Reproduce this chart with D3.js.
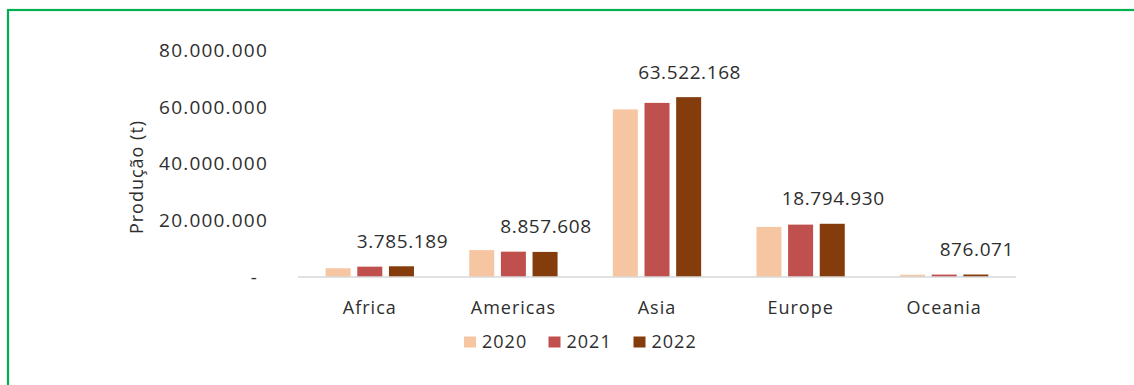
<!DOCTYPE html>
<html>
<head>
<meta charset="utf-8">
<script src="https://cdn.jsdelivr.net/npm/d3@7"></script>
<style>
  html, body { margin: 0; padding: 0; background: #ffffff; }
  svg { display: block; }
  text { font-family: "Open Sans", "Noto Sans", sans-serif; fill: #2e2e2e; }
</style>
</head>
<body>
<svg id="chart" width="1134" height="385"></svg>
<script>
// Produção por continente (t), 2020–2022
const categories = ["Africa", "Americas", "Asia", "Europe", "Oceania"];
const years = ["2020", "2021", "2022"];
const values2020 = [3100000, 9500000, 59200000, 17700000, 800000];
const values2021 = [3650000, 8950000, 61500000, 18500000, 860000];
const values2022 = [3785189, 8857608, 63522168, 18794930, 876071];
const yTicks = [0, 20000000, 40000000, 60000000, 80000000];
const colors = ["#F6C6A2", "#C0504D", "#843C0C"];
const yTitle = "Produção (t)";

const series = [values2020, values2021, values2022];

const svg = d3.select("#chart");

// outer frame
svg.append("rect")
  .attr("x", 8).attr("y", 10)
  .attr("width", 1400).attr("height", 600)
  .attr("fill", "none")
  .attr("stroke", "#00B050")
  .attr("stroke-width", 2.2);

const plot = { left: 298, right: 1016, top: 50.5, bottom: 277 };

const y = d3.scaleLinear().domain([0, 80000000]).range([plot.bottom, plot.top]);
const x0 = d3.scaleBand().domain(categories)
  .range([plot.left, plot.right])
  .paddingInner(0.385).paddingOuter(0.1925);
const x1 = d3.scaleBand().domain(years)
  .range([0, x0.bandwidth()])
  .paddingInner(0.21);

const ptBR = d3.formatLocale({ decimal: ",", thousands: ".", grouping: [3], currency: ["", ""] });
const fmt = ptBR.format(",.0f");

// y axis (labels only)
const yAxis = svg.append("g")
  .attr("transform", `translate(${plot.left},0)`)
  .call(d3.axisLeft(y).tickValues(yTicks).tickSize(0).tickPadding(30)
    .tickFormat(d => d === 0 ? "-" : fmt(d)));
yAxis.select(".domain").remove();
yAxis.selectAll("text")
  .attr("font-size", 19)
  .attr("letter-spacing", 1.2)
  .attr("fill", "#2e2e2e")
  .attr("font-family", "'Open Sans', 'Noto Sans', sans-serif")
  .attr("dx", d => d === 0 ? -10 : 0);

// y axis title
svg.append("text")
  .attr("transform", "translate(143,177) rotate(-90)")
  .attr("text-anchor", "middle")
  .attr("font-size", 18)
  .attr("letter-spacing", 1)
  .text(yTitle);

// bars
const groups = svg.append("g").selectAll("g")
  .data(categories)
  .join("g")
  .attr("transform", d => `translate(${x0(d)},0)`);

groups.selectAll("rect")
  .data((c, i) => years.map((yr, k) => ({ year: yr, value: series[k][i], k })))
  .join("rect")
  .attr("x", d => x1(d.year))
  .attr("y", d => y(d.value))
  .attr("width", x1.bandwidth())
  .attr("height", d => y(0) - y(d.value))
  .attr("fill", d => colors[d.k]);

// baseline
svg.append("line")
  .attr("x1", plot.left).attr("x2", plot.right)
  .attr("y1", y(0)).attr("y2", y(0))
  .attr("stroke", "#D9D9D9").attr("stroke-width", 1.5);

// value labels on the 2022 bars
svg.append("g").selectAll("text")
  .data(categories)
  .join("text")
  .attr("x", (c) => x0(c) + x1("2022") + x1.bandwidth() / 2 + 1)
  .attr("y", (c, i) => y(values2022[i]) - 18.5)
  .attr("text-anchor", "middle")
  .attr("font-size", 19)
  .attr("letter-spacing", 0.6)
  .text((c, i) => fmt(values2022[i]));

// category labels
svg.append("g").selectAll("text")
  .data(categories)
  .join("text")
  .attr("x", c => x0(c) + x0.bandwidth() / 2)
  .attr("y", 314)
  .attr("text-anchor", "middle")
  .attr("font-size", 18)
  .attr("letter-spacing", 1)
  .text(c => c);

// legend
const legendX = [464, 548.5, 633.5];
const legend = svg.append("g").selectAll("g")
  .data(years)
  .join("g")
  .attr("transform", (d, i) => `translate(${legendX[i]},336.5)`);
legend.append("rect")
  .attr("width", 12).attr("height", 11)
  .attr("fill", (d, i) => colors[i]);
legend.append("text")
  .attr("x", 18).attr("y", 11)
  .attr("font-size", 18)
  .attr("letter-spacing", 1)
  .text(d => d);
</script>
</body>
</html>
